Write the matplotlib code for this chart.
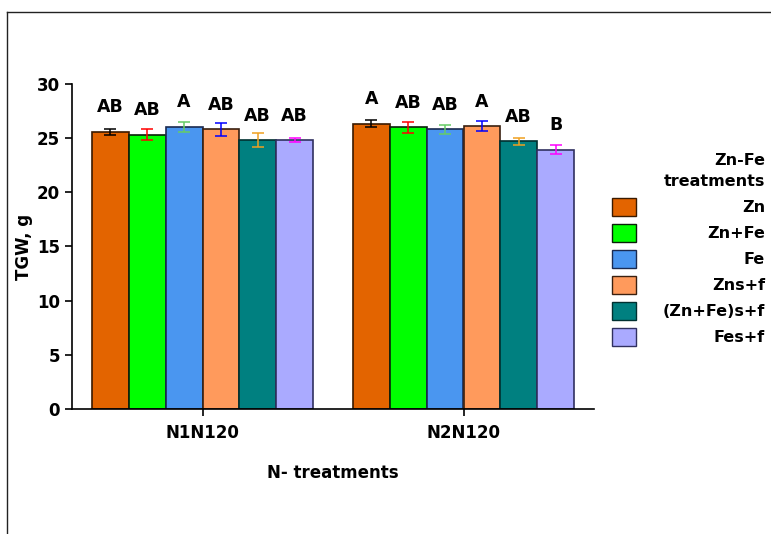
import matplotlib
matplotlib.use('Agg')
import matplotlib.pyplot as plt
import numpy as np
from matplotlib.patches import Rectangle
from matplotlib.lines import Line2D

groups = ['N1N120', 'N2N120']
treatments = ['Zn', 'Zn+Fe', 'Fe', 'Zns+f', '(Zn+Fe)s+f', 'Fes+f']
# TGW means per treatment, [N1N120, N2N120]
means = {
    'Zn':         [25.6, 26.35],
    'Zn+Fe':      [25.3, 26.0],
    'Fe':         [26.05, 25.8],
    'Zns+f':      [25.8, 26.1],
    '(Zn+Fe)s+f': [24.8, 24.7],
    'Fes+f':      [24.8, 23.95],
}
errs = {
    'Zn':         [0.28, 0.32],
    'Zn+Fe':      [0.5, 0.52],
    'Fe':         [0.45, 0.4],
    'Zns+f':      [0.6, 0.46],
    '(Zn+Fe)s+f': [0.65, 0.34],
    'Fes+f':      [0.2, 0.4],
}
letters = {
    'Zn':         ['AB', 'A'],
    'Zn+Fe':      ['AB', 'AB'],
    'Fe':         ['A', 'AB'],
    'Zns+f':      ['AB', 'A'],
    '(Zn+Fe)s+f': ['AB', 'AB'],
    'Fes+f':      ['AB', 'B'],
}

bar_colors = ['#E36400', '#00FF00', '#4A96F0', '#FF9A5C', '#008080', '#AAAAFF']
edge_colors = ['#3a1a00', '#0a200a', '#1a2a50', '#3a2010', '#003030', '#303060']
err_colors = ['black', 'red', '#66CC66', 'blue', '#F0A020', 'magenta']

fig = plt.figure(figsize=(7.71, 5.34), dpi=100)
ax = fig.add_axes([72/771, 1-409/534, (594-72)/771, (409-84)/534])

x = np.arange(len(groups))
w = 0.141
for i, t in enumerate(treatments):
    xpos = x + (i - 2.5) * w
    ax.bar(xpos, means[t], width=w, color=bar_colors[i], edgecolor=edge_colors[i], linewidth=1.2, zorder=2)
    ax.errorbar(xpos, means[t], yerr=errs[t], fmt='none', ecolor=err_colors[i],
                elinewidth=1.1, capsize=4.5, capthick=1.1, zorder=3)
    for j in range(len(groups)):
        ax.text(xpos[j], means[t][j] + 1.45, letters[t][j], ha='center', va='bottom',
                fontsize=12.5, fontweight='bold')

ax.set_xlim(-0.5, 1.5)
ax.set_ylim(0, 30)
ax.set_yticks([0, 5, 10, 15, 20, 25, 30])
ax.set_xticks(x)
ax.set_xticklabels(groups)
for s in ['top', 'right']:
    ax.spines[s].set_visible(False)
ax.spines['left'].set_linewidth(1.2)
ax.spines['bottom'].set_linewidth(1.2)
ax.tick_params(axis='both', labelsize=12, width=1.2, length=5)
ax.tick_params(axis='x', pad=6)
for lab in ax.get_xticklabels() + ax.get_yticklabels():
    lab.set_fontweight('bold')
ax.set_ylabel('TGW, g', fontsize=12, fontweight='bold', labelpad=3)
ax.set_xlabel('N- treatments', fontsize=12, fontweight='bold', labelpad=16)

# legend drawn by hand: swatch on the left, label right-aligned
W, H = 771, 534
fig.text(765/W, 1-160/H, 'Zn-Fe', ha='right', va='center', fontsize=11.5, fontweight='bold')
fig.text(765/W, 1-181/H, 'treatments', ha='right', va='center', fontsize=11.5, fontweight='bold')
for i, t in enumerate(treatments):
    yc = 207 + 26*i
    fig.patches.append(Rectangle((612/W, 1-(yc+9)/H), 24/W, 18/H, transform=fig.transFigure,
                                 facecolor=bar_colors[i], edgecolor=edge_colors[i], linewidth=1.0))
    fig.text(765/W, 1-yc/H, t, ha='right', va='center', fontsize=11.5, fontweight='bold')

# outer frame (top and left edges)
fig.add_artist(Line2D([7/W, 1], [1-12/H, 1-12/H], transform=fig.transFigure, color='#222222', lw=1))
fig.add_artist(Line2D([7/W, 7/W], [0, 1-12/H], transform=fig.transFigure, color='#222222', lw=1))

fig.savefig('out.png', dpi=100)
